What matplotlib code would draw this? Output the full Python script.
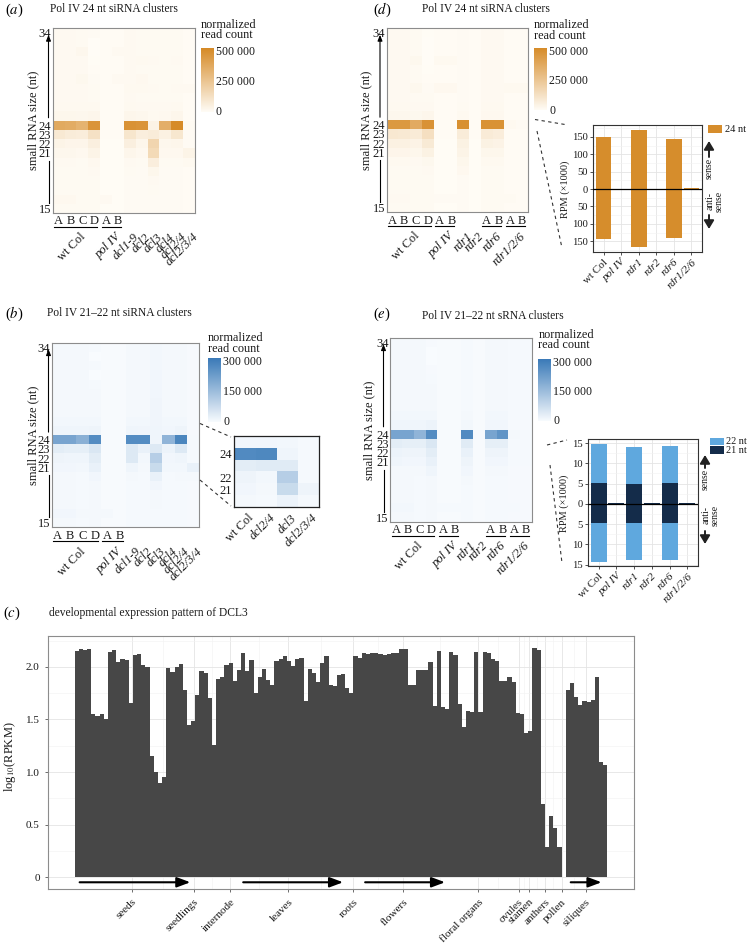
import numpy as np
import matplotlib
matplotlib.use('Agg')
import matplotlib.pyplot as plt
from matplotlib.colors import LinearSegmentedColormap
from matplotlib.patches import FancyArrowPatch, Rectangle
from matplotlib.lines import Line2D

plt.rcParams['font.family'] = ['Liberation Serif', 'DejaVu Serif']
plt.rcParams['mathtext.fontset'] = 'stix'

# ---------------- data ----------------
rna_sizes = list(range(15, 35))
size_ticks = [15, 21, 22, 23, 24, 34]

dcl_groups = ['wt Col', 'pol IV', 'dcl1-9', 'dcl2', 'dcl3', 'dcl4', 'dcl2/4', 'dcl2/3/4']
dcl_reps = [['A', 'B', 'C', 'D'], ['A', 'B'], [], [], [], [], [], []]
rdr_groups = ['wt Col', 'pol IV', 'rdr1', 'rdr2', 'rdr6', 'rdr1/2/6']
rdr_reps = [['A', 'B', 'C', 'D'], ['A', 'B'], [], [], ['A', 'B'], ['A', 'B']]

# normalized read counts (x1000); columns: samples left to right
heat_a = {
    34: [14, 14, 12, 10, 5, 5, 14, 12, 12, 12, 12, 6],
    33: [14, 14, 12, 2, 5, 5, 14, 12, 12, 12, 12, 6],
    32: [14, 14, 24, 2, 5, 14, 14, 12, 12, 12, 12, 6],
    31: [14, 14, 14, 4, 5, 5, 14, 16, 14, 12, 14, 6],
    30: [14, 14, 14, 8, 5, 5, 14, 12, 12, 12, 12, 6],
    29: [14, 14, 22, 10, 5, 14, 14, 20, 12, 12, 12, 6],
    28: [14, 14, 14, 12, 5, 5, 16, 16, 14, 12, 14, 14],
    27: [14, 14, 14, 12, 5, 5, 14, 12, 12, 12, 12, 6],
    26: [16, 16, 16, 16, 5, 5, 16, 14, 14, 14, 16, 6],
    25: [26, 26, 24, 30, 5, 5, 28, 24, 16, 20, 30, 6],
    24: [380, 370, 340, 480, 6, 6, 490, 480, 45, 360, 520, 12],
    23: [90, 75, 70, 125, 5, 5, 105, 65, 75, 50, 100, 10],
    22: [38, 32, 32, 58, 4, 4, 58, 28, 180, 24, 28, 10],
    21: [24, 24, 20, 38, 4, 4, 30, 20, 160, 20, 20, 38],
    20: [14, 14, 12, 18, 4, 4, 14, 12, 65, 12, 12, 16],
    19: [12, 12, 12, 14, 4, 4, 12, 10, 25, 10, 10, 8],
    18: [12, 12, 12, 12, 4, 4, 10, 10, 14, 10, 10, 6],
    17: [12, 12, 12, 12, 4, 4, 10, 10, 12, 10, 10, 6],
    16: [18, 18, 12, 12, 14, 4, 10, 10, 10, 10, 10, 6],
    15: [12, 12, 12, 12, 4, 4, 10, 10, 10, 10, 10, 6],
}
heat_d = {
    34: [14, 14, 12, 4, 5, 5, 10, 5, 14, 14, 8, 8],
    33: [14, 14, 12, 2, 5, 5, 10, 5, 14, 14, 8, 8],
    32: [14, 14, 12, 2, 5, 5, 10, 5, 14, 14, 8, 8],
    31: [14, 14, 22, 2, 16, 16, 10, 5, 14, 14, 8, 8],
    30: [14, 14, 12, 4, 5, 5, 10, 5, 14, 14, 8, 8],
    29: [14, 14, 12, 8, 5, 5, 10, 5, 14, 14, 8, 8],
    28: [14, 14, 22, 10, 18, 18, 10, 5, 14, 14, 16, 16],
    27: [14, 14, 12, 12, 5, 5, 10, 5, 14, 14, 8, 8],
    26: [16, 16, 14, 14, 5, 5, 12, 5, 16, 16, 8, 8],
    25: [24, 24, 22, 28, 5, 5, 16, 5, 20, 20, 8, 8],
    24: [460, 460, 380, 490, 5, 5, 500, 8, 490, 490, 16, 10],
    23: [95, 90, 80, 135, 5, 5, 75, 5, 80, 70, 8, 6],
    22: [52, 50, 42, 85, 4, 4, 48, 4, 48, 42, 8, 6],
    21: [32, 32, 26, 48, 4, 4, 38, 4, 26, 26, 8, 6],
    20: [16, 16, 14, 22, 4, 4, 26, 4, 16, 16, 8, 6],
    19: [12, 12, 12, 14, 4, 4, 18, 4, 12, 12, 8, 6],
    18: [12, 12, 12, 12, 4, 4, 10, 4, 12, 12, 8, 6],
    17: [12, 12, 12, 12, 4, 4, 10, 4, 12, 12, 8, 6],
    16: [14, 14, 12, 12, 10, 10, 10, 4, 12, 12, 12, 8],
    15: [12, 12, 12, 12, 4, 4, 10, 4, 12, 12, 8, 6],
}
heat_b = {
    34: [8, 8, 8, 6, 3, 3, 8, 8, 10, 8, 8, 4],
    33: [8, 8, 8, 0, 3, 3, 8, 8, 10, 8, 8, 4],
    32: [8, 8, 8, 6, 3, 3, 8, 8, 10, 8, 8, 4],
    31: [8, 8, 8, 0, 3, 3, 8, 8, 12, 8, 8, 4],
    30: [8, 8, 8, 6, 3, 3, 8, 8, 12, 8, 8, 4],
    29: [8, 8, 8, 8, 3, 3, 8, 8, 12, 8, 8, 4],
    28: [8, 8, 8, 8, 3, 3, 8, 8, 14, 8, 8, 4],
    27: [8, 8, 8, 8, 3, 3, 8, 8, 14, 8, 8, 4],
    26: [10, 10, 10, 10, 3, 3, 10, 10, 14, 10, 10, 4],
    25: [16, 16, 15, 18, 3, 3, 16, 14, 16, 12, 18, 4],
    24: [215, 215, 185, 275, 3, 3, 275, 275, 15, 175, 290, 6],
    23: [35, 30, 30, 50, 3, 3, 45, 25, 45, 20, 45, 5],
    22: [18, 15, 15, 35, 3, 3, 45, 10, 110, 12, 15, 5],
    21: [12, 12, 10, 25, 3, 3, 15, 8, 80, 10, 10, 25],
    20: [8, 8, 6, 12, 3, 3, 8, 5, 25, 6, 8, 8],
    19: [8, 8, 6, 8, 3, 3, 6, 5, 12, 6, 6, 4],
    18: [8, 8, 6, 8, 3, 3, 6, 5, 8, 6, 6, 4],
    17: [8, 8, 6, 8, 3, 3, 6, 5, 8, 6, 6, 4],
    16: [12, 12, 8, 8, 8, 3, 6, 5, 6, 6, 6, 4],
    15: [8, 8, 6, 8, 3, 3, 6, 5, 6, 6, 6, 4],
}
heat_e = {
    34: [8, 8, 8, 4, 3, 3, 6, 3, 8, 8, 5, 5],
    33: [8, 8, 8, 0, 3, 3, 6, 3, 8, 8, 5, 5],
    32: [8, 8, 8, 0, 3, 3, 6, 3, 8, 8, 5, 5],
    31: [8, 8, 8, 4, 3, 3, 6, 3, 8, 8, 5, 5],
    30: [8, 8, 8, 6, 3, 3, 6, 3, 8, 8, 5, 5],
    29: [8, 8, 8, 8, 3, 3, 6, 3, 8, 8, 5, 5],
    28: [8, 8, 8, 8, 3, 3, 6, 3, 8, 8, 5, 5],
    27: [8, 8, 8, 8, 3, 3, 6, 3, 8, 8, 5, 5],
    26: [10, 10, 10, 10, 3, 3, 8, 3, 10, 10, 5, 5],
    25: [15, 15, 15, 20, 3, 3, 10, 3, 12, 12, 4, 4],
    24: [215, 215, 175, 275, 3, 3, 280, 4, 215, 255, 8, 5],
    23: [35, 30, 30, 50, 3, 3, 40, 3, 30, 30, 5, 5],
    22: [20, 18, 18, 35, 3, 3, 25, 3, 18, 18, 5, 5],
    21: [15, 12, 12, 25, 3, 3, 18, 3, 12, 12, 5, 5],
    20: [8, 8, 8, 15, 3, 3, 12, 3, 8, 8, 4, 4],
    19: [8, 8, 6, 8, 3, 3, 8, 3, 6, 6, 4, 4],
    18: [8, 8, 6, 8, 3, 3, 6, 3, 6, 6, 4, 4],
    17: [8, 8, 6, 8, 3, 3, 6, 3, 6, 6, 4, 4],
    16: [10, 10, 6, 8, 6, 6, 6, 3, 6, 6, 6, 4],
    15: [8, 8, 6, 8, 3, 3, 6, 3, 6, 6, 4, 4],
}
# zoom inset of (b)
inset_b_groups = ['wt Col', 'dcl2/4', 'dcl3', 'dcl2/3/4']
inset_b_sizes = [20, 21, 22, 23, 24, 25]
inset_b = {
    25: [12, 12, 10, 6],
    24: [280, 285, 15, 6],
    23: [35, 40, 40, 5],
    22: [18, 10, 110, 6],
    21: [12, 8, 80, 18],
    20: [8, 6, 20, 8],
}

# RPM (x1000) sense / antisense
rdr_rpm24_sense = [149, 0, 169, 0, 144, 2]
rdr_rpm24_anti = [144, 0, 167, 0, 142, 2]
rdr_rpm21_sense = [5.2, 0.2, 5.0, 0.2, 5.1, 0.2]
rdr_rpm22_sense = [9.6, 0.0, 9.1, 0.0, 9.2, 0.0]
rdr_rpm21_anti = [4.8, 0.2, 4.7, 0.2, 4.7, 0.2]
rdr_rpm22_anti = [9.5, 0.0, 9.0, 0.0, 9.2, 0.0]

# (c) DCL3 expression, log10(RPKM), 128 samples (one missing)
dcl3_log_rpkm = [
    2.15, 2.17, 2.16, 2.17, 1.55, 1.53, 1.55, 1.50, 2.14, 2.16,
    2.05, 2.08, 2.07, 1.66, 2.11, 2.12, 2.02, 2.00, 1.15, 1.00,
    0.90, 0.95, 1.99, 1.95, 2.00, 2.03, 1.78, 1.45, 1.49, 1.73,
    1.96, 1.94, 1.70, 1.26, 1.89, 1.90, 2.02, 2.04, 1.87, 1.97,
    2.13, 1.96, 2.07, 1.75, 1.90, 1.98, 1.88, 1.83, 2.06, 2.08,
    2.10, 2.06, 2.01, 2.08, 2.09, 1.68, 1.98, 1.94, 1.86, 2.04,
    2.10, 1.83, 1.82, 1.92, 1.93, 1.80, 1.75, 2.10, 2.09, 2.13,
    2.12, 2.13, 2.13, 2.12, 2.11, 2.12, 2.13, 2.13, 2.17, 2.17,
    1.83, 1.83, 1.97, 1.97, 1.97, 2.05, 1.63, 2.15, 1.62, 1.60,
    2.14, 2.11, 1.65, 1.43, 1.58, 1.57, 2.14, 1.57, 2.14, 2.13,
    2.08, 2.06, 1.87, 1.87, 1.90, 1.86, 1.56, 1.55, 1.37, 1.39,
    2.18, 2.16, 0.70, 0.29, 0.58, 0.47, 0.29, np.nan, 1.78, 1.85,
    1.71, 1.64, 1.68, 1.67, 1.69, 1.90, 1.10, 1.07,
]
tissue_names = ['seeds', 'seedlings', 'internode', 'leaves', 'roots', 'flowers',
                'floral organs', 'ovules', 'stamen', 'anthers', 'pollen', 'siliques']
tissue_pos = [13.2, 28.1, 36.9, 50.8, 66.4, 78.4, 96.4, 106.2, 108.6, 112.5, 116.5, 122.3]
series_arrows = [(0.7, 27.3), (40.0, 64.0), (69.3, 88.5), (118.7, 126.1)]

# ---------------- figure helpers ----------------
W, H = 747, 946
fig = plt.figure(figsize=(W / 100, H / 100), dpi=100)


def add_ax(x0, y0, x1, y1):
    return fig.add_axes([x0 / W, 1 - y1 / H, (x1 - x0) / W, (y1 - y0) / H])


def ftext(x, y, s, **kw):
    return fig.text(x / W, 1 - y / H, s, **kw)


def fline(xs, ys, **kw):
    fig.add_artist(Line2D([x / W for x in xs], [1 - y / H for y in ys],
                          transform=fig.transFigure, **kw))


def farrow(x0, y0, x1, y1, **kw):
    fig.add_artist(FancyArrowPatch((x0 / W, 1 - y0 / H), (x1 / W, 1 - y1 / H),
                                   transform=fig.transFigure, **kw))


def frect(x0, y0, x1, y1, color):
    fig.add_artist(Rectangle((x0 / W, 1 - y1 / H), (x1 - x0) / W, (y1 - y0) / H,
                             transform=fig.transFigure, color=color, lw=0))


orange_cmap = LinearSegmentedColormap.from_list('or', ['#FFFCF6', '#D68A26'])
blue_cmap = LinearSegmentedColormap.from_list('bl', ['#F8FBFE', '#3A7AB8'])
ORANGE = '#D68D2C'
BLUE22 = '#5FA8DE'
NAVY21 = '#142C4A'
TXT = '#1A1A1A'
HFS = 9  # heatmap label font size


def heatmap_panel(box, rows, vmax, cmap, groups, reps, arrow_x):
    x0, y0, x1, y1 = box
    mat = np.array([rows[s] for s in rna_sizes], dtype=float)
    ncol = mat.shape[1]
    ax = add_ax(x0, y0, x1, y1)
    ax.pcolormesh(np.arange(ncol + 1), np.arange(14.5, 35.0, 1.0), mat,
                  cmap=cmap, vmin=0, vmax=vmax)
    ax.set_xlim(0, ncol)
    ax.set_ylim(14.5, 34.5)
    ax.set_xticks([])
    ax.set_yticks(size_ticks)
    ax.set_yticklabels([str(s) for s in size_ticks])
    ax.tick_params(axis='y', length=0, pad=1.0, labelsize=HFS, labelcolor=TXT)
    for sp in ax.spines.values():
        sp.set_color('#8C8C8C')
        sp.set_linewidth(0.8)
    cw = (x1 - x0) / ncol
    rh = (y1 - y0) / 20.0

    def ypx(s):
        return y0 + (34.5 - s) * rh
    farrow(arrow_x, ypx(24) - 7.5, arrow_x, y0 + 6.5,
           arrowstyle='-|>,head_length=0.5,head_width=0.2', mutation_scale=7,
           color='black', lw=0.8, shrinkA=0, shrinkB=0)
    fline([arrow_x, arrow_x], [ypx(21) + 8, ypx(15) - 5.5], color='black', lw=0.8)
    c = 0
    for g, r in zip(groups, reps):
        n = max(1, len(r))
        center = x0 + (c + n / 2.0) * cw
        for i, letter in enumerate(r):
            ftext(x0 + (c + i + 0.5) * cw, y1 + 8.5, letter, fontsize=HFS,
                  ha='center', va='center', color=TXT)
        if r:
            fline([x0 + c * cw + 1.5, x0 + (c + n) * cw - 3], [y1 + 14, y1 + 14],
                  color='black', lw=0.8)
        ftext(center + 3, y1 + 18, g, rotation=45, ha='right', va='top',
              rotation_mode='anchor', fontsize=HFS, color=TXT,
              style='normal' if g == 'wt Col' else 'italic')
        c += n
    return ax


def colorbar(x0, y_top, y_zero, vmax, ticks, labels, cmap, title_y):
    ax = add_ax(x0, y_top, x0 + 13, y_zero)
    grad = np.linspace(0, vmax, 256).reshape(-1, 1)
    ax.imshow(grad, aspect='auto', cmap=cmap, vmin=0, vmax=vmax, origin='lower',
              extent=[0, 1, 0, vmax])
    ax.set_axis_off()
    for t, lab in zip(ticks, labels):
        ypx = y_zero - (y_zero - y_top) * t / vmax
        ftext(x0 + 15, ypx, lab, fontsize=8.6, va='center', ha='left', color=TXT)
    ftext(x0, title_y, 'normalized', fontsize=8.8, va='center', ha='left', color=TXT)
    ftext(x0, title_y + 10.5, 'read count', fontsize=8.8, va='center', ha='left', color=TXT)


TFS = 8.3  # title font size

# ---------------- panel (a) ----------------
ftext(5, 10, r'($\mathit{a}$)', fontsize=10.5, va='center', ha='left')
ftext(50, 9.5, 'Pol IV 24 nt siRNA clusters', fontsize=TFS, va='center', ha='left', color=TXT)
heatmap_panel((52.7, 28.3, 195, 213), heat_a, 528, orange_cmap, dcl_groups, dcl_reps, 48.5)
ftext(33, 120.6, 'small RNA size (nt)', rotation=90, fontsize=9, va='center', ha='center', color=TXT)
colorbar(201, 48.3, 111.7, 528, [0, 250, 500], ['0', '250 000', '500 000'], orange_cmap, 25)

# ---------------- panel (b) ----------------
ftext(5, 314, r'($\mathit{b}$)', fontsize=10.5, va='center', ha='left')
ftext(47, 313.5, 'Pol IV 21–22 nt siRNA clusters', fontsize=TFS, va='center', ha='left', color=TXT)
heatmap_panel((51.7, 342.7, 199.3, 527.3), heat_b, 320, blue_cmap, dcl_groups, dcl_reps, 48.5)
ftext(33, 435, 'small RNA size (nt)', rotation=90, fontsize=9, va='center', ha='center', color=TXT)
colorbar(208, 358.3, 421.7, 320, [0, 150, 300], ['0', '150 000', '300 000'], blue_cmap, 338.3)

# inset of (b)
ib = np.array([inset_b[s] for s in inset_b_sizes], dtype=float)
axi = add_ax(234.3, 436, 319.3, 506.7)
axi.pcolormesh(np.arange(5), np.arange(19.5, 26.0, 1.0), ib, cmap=blue_cmap, vmin=0, vmax=320)
axi.set_xlim(0, 4)
axi.set_ylim(19.5, 25.5)
axi.set_xticks([])
axi.set_yticks([21, 22, 24])
axi.set_yticklabels(['21', '22', '24'])
axi.tick_params(axis='y', length=0, pad=1.5, labelsize=HFS, labelcolor=TXT)
for sp in axi.spines.values():
    sp.set_color('#222222')
    sp.set_linewidth(0.9)
for i, g in enumerate(inset_b_groups):
    ftext(234.3 + (i + 0.5) * 21.25 + 3, 512, g, rotation=45, ha='right', va='top',
          rotation_mode='anchor', fontsize=HFS, color=TXT,
          style='normal' if g == 'wt Col' else 'italic')
fline([200, 231], [423.5, 437], color='#333333', lw=0.8, ls=(0, (3, 3)))
fline([200, 231], [480, 506], color='#333333', lw=0.8, ls=(0, (3, 3)))

# ---------------- panel (d) ----------------
ftext(373, 10, r'($\mathit{d}$)', fontsize=10.5, va='center', ha='left')
ftext(422, 9.5, 'Pol IV 24 nt siRNA clusters', fontsize=TFS, va='center', ha='left', color=TXT)
heatmap_panel((386.5, 28.3, 528, 212), heat_d, 529, orange_cmap, rdr_groups, rdr_reps, 380)
ftext(366, 120, 'small RNA size (nt)', rotation=90, fontsize=9, va='center', ha='center', color=TXT)
colorbar(534, 48.3, 110.5, 529, [0, 250, 500], ['0', '250 000', '500 000'], orange_cmap, 25.5)


def style_inset(ax, ylim, major, minor):
    ax.set_xlim(-0.6, 5.6)
    ax.set_ylim(*ylim)
    ax.set_yticks(major)
    ax.set_yticklabels([str(abs(v)) for v in major])
    ax.set_yticks(minor, minor=True)
    ax.set_xticks(range(6))
    ax.set_xticklabels(rdr_groups)
    for lab in ax.get_xticklabels():
        lab.set_rotation(45)
        lab.set_ha('right')
        lab.set_va('top')
        lab.set_rotation_mode('anchor')
        lab.set_fontsize(8)
        if lab.get_text() != 'wt Col':
            lab.set_style('italic')
    ax.tick_params(axis='y', which='major', labelsize=7.6)
    ax.tick_params(axis='both', which='major', length=2.5, width=0.6,
                   color='#333333', labelcolor=TXT, pad=1.5)
    ax.tick_params(axis='both', which='minor', length=0)
    ax.grid(which='major', color='#E4E4E4', lw=0.6)
    ax.grid(which='minor', axis='y', color='#F2F2F2', lw=0.4)
    ax.set_axisbelow(True)
    for sp in ax.spines.values():
        sp.set_color('#333333')
        sp.set_linewidth(0.8)
    ax.axhline(0, color='black', lw=0.9, zorder=3)


axd = add_ax(593, 125, 702, 252)
xpos = np.arange(6)
axd.bar(xpos, rdr_rpm24_sense, width=0.9, color=ORANGE, lw=0)
axd.bar(xpos, [-v for v in rdr_rpm24_anti], width=0.9, color=ORANGE, lw=0)
style_inset(axd, (-181, 184), [-150, -100, -50, 0, 50, 100, 150],
            [-175, -125, -75, -25, 25, 75, 125, 175])
ftext(565, 189, 'RPM (×1000)', rotation=90, fontsize=7.5, va='center', ha='center', color=TXT)
frect(708, 125, 722, 133, ORANGE)
ftext(725, 129, '24 nt', fontsize=7.5, va='center', ha='left', color=TXT)
farrow(709, 157, 709, 141, arrowstyle='-|>,head_length=0.5,head_width=0.3',
       mutation_scale=10, lw=1.4, color='#222222', shrinkA=0, shrinkB=0)
ftext(709, 168, 'sense', rotation=90, fontsize=7, va='center', ha='center', color=TXT)
ftext(714.5, 201, 'anti-\nsense', rotation=90, fontsize=7, va='center', ha='center',
      multialignment='center', linespacing=1.0, color=TXT)
farrow(709, 215, 709, 229, arrowstyle='-|>,head_length=0.5,head_width=0.3',
       mutation_scale=10, lw=1.4, color='#222222', shrinkA=0, shrinkB=0)
fline([535, 565], [119.5, 124.5], color='#333333', lw=0.8, ls=(0, (3, 3)))
fline([537, 562], [131, 248], color='#333333', lw=0.8, ls=(0, (3, 3)))

# ---------------- panel (e) ----------------
ftext(373, 314, r'($\mathit{e}$)', fontsize=10.5, va='center', ha='left')
ftext(422, 316, 'Pol IV 21–22 nt sRNA clusters', fontsize=TFS, va='center', ha='left', color=TXT)
heatmap_panel((390, 337.7, 532, 521.7), heat_e, 319, blue_cmap, rdr_groups, rdr_reps, 383.5)
ftext(369, 430, 'small RNA size (nt)', rotation=90, fontsize=9, va='center', ha='center', color=TXT)
colorbar(538.3, 359, 420.7, 319, [0, 150, 300], ['0', '150 000', '300 000'], blue_cmap, 335)

axe = add_ax(588, 439, 698, 566)
axe.bar(xpos, rdr_rpm21_sense, width=0.9, color=NAVY21, lw=0)
axe.bar(xpos, rdr_rpm22_sense, bottom=rdr_rpm21_sense, width=0.9, color=BLUE22, lw=0)
axe.bar(xpos, [-v for v in rdr_rpm21_anti], width=0.9, color=NAVY21, lw=0)
axe.bar(xpos, [-v for v in rdr_rpm22_anti], bottom=[-v for v in rdr_rpm21_anti],
        width=0.9, color=BLUE22, lw=0)
style_inset(axe, (-15.3, 16.0), [-15, -10, -5, 0, 5, 10, 15],
            [-12.5, -7.5, -2.5, 2.5, 7.5, 12.5])
ftext(564, 503, 'RPM (×1000)', rotation=90, fontsize=7.5, va='center', ha='center', color=TXT)
frect(710, 438, 724, 445.5, BLUE22)
frect(710, 446, 724, 453.5, NAVY21)
ftext(726.5, 441.5, '22 nt', fontsize=7.3, va='center', ha='left', color=TXT)
ftext(726.5, 450, '21 nt', fontsize=7.3, va='center', ha='left', color=TXT)
farrow(705, 468, 705, 455, arrowstyle='-|>,head_length=0.5,head_width=0.3',
       mutation_scale=10, lw=1.4, color='#222222', shrinkA=0, shrinkB=0)
ftext(705, 479, 'sense', rotation=90, fontsize=7, va='center', ha='center', color=TXT)
ftext(710.5, 515, 'anti-\nsense', rotation=90, fontsize=7, va='center', ha='center',
      multialignment='center', linespacing=1.0, color=TXT)
farrow(705, 531, 705, 544, arrowstyle='-|>,head_length=0.5,head_width=0.3',
       mutation_scale=10, lw=1.4, color='#222222', shrinkA=0, shrinkB=0)
fline([547, 567], [445, 440], color='#333333', lw=0.8, ls=(0, (3, 3)))
fline([550, 562], [465, 563], color='#333333', lw=0.8, ls=(0, (3, 3)))

# ---------------- panel (c) ----------------
ftext(3, 613, r'($\mathit{c}$)', fontsize=10.5, va='center', ha='left')
ftext(49, 613, 'developmental expression pattern of DCL3', fontsize=TFS, va='center',
      ha='left', color=TXT)
axc = add_ax(48, 636, 634, 889)
xs = np.arange(len(dcl3_log_rpkm))
axc.bar(xs, dcl3_log_rpkm, width=1.0, color='#474747', lw=0)
axc.set_xlim(-6.9, 133.9)
axc.set_ylim(-0.114, 2.295)
axc.set_yticks([0, 0.5, 1.0, 1.5, 2.0])
axc.set_yticklabels(['0', '0.5', '1.0', '1.5', '2.0'])
axc.set_yticks([0.25, 0.75, 1.25, 1.75, 2.25], minor=True)
axc.set_xticks(tissue_pos)
axc.set_xticklabels(tissue_names)
minor_x = [(a + b) / 2 for a, b in zip(tissue_pos[:-1], tissue_pos[1:])]
axc.set_xticks(minor_x, minor=True)
for lab in axc.get_xticklabels():
    lab.set_rotation(45)
    lab.set_ha('right')
    lab.set_va('top')
    lab.set_rotation_mode('anchor')
axc.tick_params(axis='x', which='major', labelsize=8)
axc.tick_params(axis='y', which='major', labelsize=8)
axc.tick_params(axis='both', which='major', length=2.5, width=0.6,
                color='#555555', labelcolor=TXT, pad=3.5)
axc.tick_params(axis='both', which='minor', length=0)
axc.grid(which='major', color='#E4E4E4', lw=0.6)
axc.grid(which='minor', color='#F2F2F2', lw=0.4)
axc.set_axisbelow(True)
for sp in axc.spines.values():
    sp.set_color('#8C8C8C')
    sp.set_linewidth(0.8)
for a, b in series_arrows:
    axc.annotate('', xy=(b, -0.05), xytext=(a, -0.05),
                 arrowprops=dict(arrowstyle='-|>,head_length=0.8,head_width=0.3',
                                 color='black', lw=1.5, mutation_scale=10,
                                 shrinkA=0, shrinkB=0))
ftext(10, 757, r'log$_{10}$(RPKM)', rotation=90, fontsize=9, va='center', ha='center', color=TXT)

fig.savefig('out.png', dpi=100)
